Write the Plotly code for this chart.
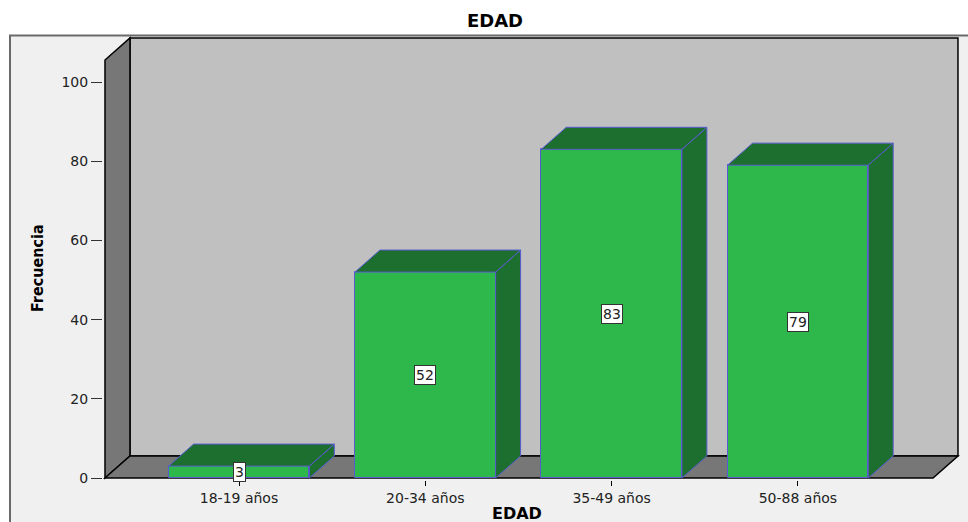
import plotly.graph_objects as go

# Frequency table
categories = ["18-19 años", "20-34 años", "35-49 años", "50-88 años"]
frequencies = [3, 52, 83, 79]
y_ticks = [0, 20, 40, 60, 80, 100]

# 3-D look: depth offset of the back plane, in axis units
DEPTH_X = 0.134
DEPTH_Y = 5.56
BAR_WIDTH = 0.755

# Axis extents of the front plane / back wall
X_FRONT_LEFT = -0.7193
X_FRONT_RIGHT = 3.7252
Y_FRONT_TOP = 105.56

FACE = "#2eb74a"
DARK = "#1c6f2e"
EDGE = "#5a5ad2"
WALL = "#c0c0c0"
SIDE = "#777777"
FONT = "DejaVu Sans, Liberation Sans, Arial, sans-serif"

xs = list(range(len(categories)))

fig = go.Figure()

# Front faces of the bars
fig.add_trace(go.Bar(
    x=xs, y=frequencies, width=BAR_WIDTH,
    marker=dict(color=FACE, line=dict(color=EDGE, width=1)),
    hoverinfo="skip", showlegend=False,
))

# Right side and top faces of each bar
for x, v in zip(xs, frequencies):
    l, r = x - BAR_WIDTH / 2, x + BAR_WIDTH / 2
    side_x = [r, r + DEPTH_X, r + DEPTH_X, r, r]
    side_y = [0, DEPTH_Y, v + DEPTH_Y, v, 0]
    top_x = [l, r, r + DEPTH_X, l + DEPTH_X, l]
    top_y = [v, v, v + DEPTH_Y, v + DEPTH_Y, v]
    for px, py in ((side_x, side_y), (top_x, top_y)):
        fig.add_trace(go.Scatter(
            x=px, y=py, mode="lines", fill="toself", fillcolor=DARK,
            line=dict(color=EDGE, width=1), hoverinfo="skip", showlegend=False,
        ))

# Value labels in white boxes
for x, v in zip(xs, frequencies):
    fig.add_annotation(
        x=x, y=v / 2, text=str(v), showarrow=False,
        font=dict(family=FONT, size=14, color="#222"),
        bgcolor="white", bordercolor="#333", borderwidth=1, borderpad=1,
    )

# Plot area pixel geometry: left 103, right 961, top 36, bottom 480
PX_L, PX_R, PX_T, PX_B = 103, 961, 36, 480
X0_PX, X_SCALE = 239.0, 186.3
Y0_PX, Y_SCALE = 478.0, 3.96
x_range = [(PX_L - X0_PX) / X_SCALE, (PX_R - X0_PX) / X_SCALE]
y_range = [(Y0_PX - PX_B) / Y_SCALE, (Y0_PX - PX_T) / Y_SCALE]

bx0 = X_FRONT_LEFT + DEPTH_X
bx1 = X_FRONT_RIGHT + DEPTH_X
by0 = DEPTH_Y
by1 = Y_FRONT_TOP + DEPTH_Y


def pw(px):
    return (px - PX_L) / (PX_R - PX_L)


def ph(py):
    return (PX_B - py) / (PX_B - PX_T)


shapes = [
    # outer frame
    dict(type="rect", xref="paper", yref="paper",
         x0=pw(10), x1=pw(975), y0=ph(540), y1=ph(35.5),
         fillcolor="#f0f0f0", line=dict(color="#6a6a6a", width=2), layer="below"),
    # back wall
    dict(type="rect", xref="x", yref="y", x0=bx0, x1=bx1, y0=by0, y1=by1,
         fillcolor=WALL, line=dict(color="black", width=1.5), layer="below"),
    # left side wall
    dict(type="path", xref="x", yref="y",
         path=f"M {X_FRONT_LEFT},0 L {bx0},{by0} L {bx0},{by1} L {X_FRONT_LEFT},{Y_FRONT_TOP} Z",
         fillcolor=SIDE, line=dict(color="black", width=1.5), layer="below"),
    # floor
    dict(type="path", xref="x", yref="y",
         path=f"M {X_FRONT_LEFT},0 L {X_FRONT_RIGHT},0 L {bx1},{by0} L {bx0},{by0} Z",
         fillcolor=SIDE, line=dict(color="black", width=1.5), layer="below"),
]

fig.update_layout(
    width=968, height=522,
    margin=dict(l=PX_L, r=968 - PX_R, t=PX_T, b=522 - PX_B),
    paper_bgcolor="white", plot_bgcolor="rgba(0,0,0,0)",
    shapes=shapes, bargap=0,
    title=dict(text="<b>EDAD</b>", x=495 / 968, xanchor="center",
               y=1 - 21 / 522, yanchor="middle",
               font=dict(family=FONT, size=18, color="black")),
    xaxis=dict(range=x_range, tickvals=xs, ticktext=categories,
               ticks="outside", ticklen=5, tickcolor="black", tickwidth=1,
               showgrid=False, zeroline=False, showline=False,
               tickfont=dict(family=FONT, size=14, color="#222"), fixedrange=True),
    yaxis=dict(range=y_range, tickvals=y_ticks,
               ticks="outside", ticklen=11, tickcolor="#333", tickwidth=1,
               showgrid=False, zeroline=False, showline=False,
               tickfont=dict(family=FONT, size=14, color="#222"), fixedrange=True),
)

# Axis titles
fig.add_annotation(
    xref="paper", yref="paper", x=pw(517), y=ph(513), text="<b>EDAD</b>",
    showarrow=False, xanchor="center", yanchor="middle",
    font=dict(family=FONT, size=16, color="black"),
)
fig.add_annotation(
    xref="paper", yref="paper", x=pw(37), y=ph(268), text="<b>Frecuencia</b>",
    showarrow=False, textangle=-90, xanchor="center", yanchor="middle",
    font=dict(family="Liberation Sans Narrow, DejaVu Sans Condensed, Arial Narrow, sans-serif",
              size=16, color="black"),
)

fig.write_html("out.html")
